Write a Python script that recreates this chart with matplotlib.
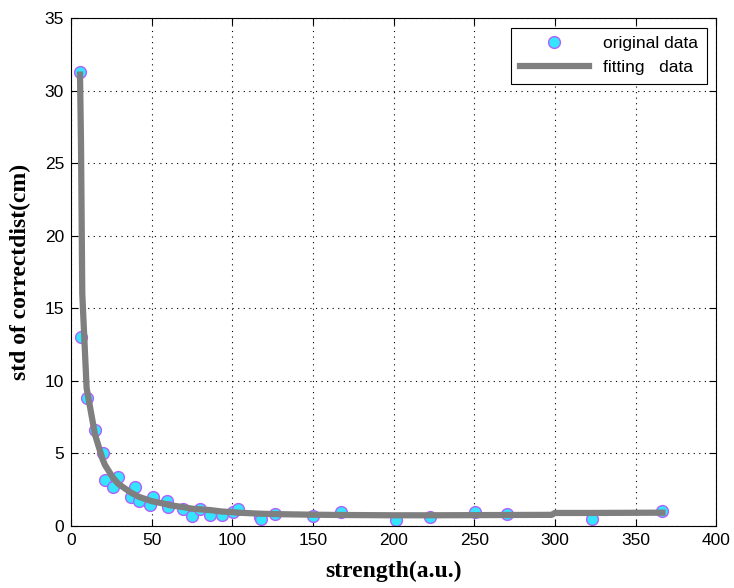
import matplotlib.pyplot as plt

# original measurements
strength = [5.6, 6.2, 9.7, 14.9, 19.6, 21.1, 26.2, 29.4, 37.2, 39.7, 42.4, 49.0, 50.6,
            59.3, 60.4, 69.7, 74.8, 80.0, 86.2, 93.4, 100.7, 103.8, 117.0, 117.5, 126.2,
            150.3, 167.2, 201.3, 222.6, 250.5, 270.2, 323.0, 366.7]
std_dist = [31.3, 13.0, 8.8, 6.6, 5.0, 3.2, 2.7, 3.4, 2.0, 2.7, 1.7, 1.45, 2.0,
            1.7, 1.3, 1.2, 0.7, 1.2, 0.75, 0.75, 1.0, 1.2, 0.65, 0.5, 0.85,
            0.7, 1.0, 0.4, 0.6, 1.0, 0.85, 0.5, 1.05]

# fitted curve
fit_x = [5.6, 6.2, 7.0, 9.7, 14.9, 19.6, 21.1, 26.2, 29.4, 37.2, 39.7, 42.4, 49.0, 50.6,
         59.3, 60.4, 69.7, 74.8, 80.0, 86.2, 93.4, 100.7, 103.8, 117.0, 126.2, 150.3,
         167.2, 201.3, 222.6, 250.5, 270.2, 298.0, 300.0, 323.0, 366.7]
fit_y = [31.1, 26.5, 16.0, 9.5, 6.3, 4.6, 4.2, 3.3, 2.9, 2.3, 2.15, 2.0, 1.75, 1.7,
         1.5, 1.45, 1.3, 1.2, 1.15, 1.1, 1.0, 0.95, 0.92, 0.85, 0.82, 0.78,
         0.76, 0.74, 0.74, 0.75, 0.76, 0.77, 0.9, 0.9, 0.92]

fig = plt.figure(figsize=(7.34, 5.88), dpi=100)
ax = fig.add_axes([0.0967, 0.1054, 0.879, 0.864])

ax.plot(strength, std_dist, 'o', color='#33e5ff', markeredgecolor='#b060ff',
        markeredgewidth=1.0, markersize=8.5, label='original data', zorder=2)
ax.plot(fit_x, fit_y, '-', color='#7f7f7f', linewidth=4.5, label='fitting   data', zorder=3)

ax.set_xlim(0, 400)
ax.set_ylim(0, 35)
ax.set_xticks(range(0, 401, 50))
ax.set_yticks(range(0, 36, 5))
ax.grid(True, linestyle=(0, (1, 4)), color='black', linewidth=0.8)
ax.tick_params(direction='in', top=True, right=True, length=5, labelsize=12.5, pad=5)
for lab in ax.get_xticklabels() + ax.get_yticklabels():
    lab.set_family('Liberation Sans')

ax.set_xlabel('strength(a.u.)', family='Liberation Serif', fontweight='bold', fontsize=17,
              labelpad=9)
ax.set_ylabel('std of correctdist(cm)', family='Liberation Serif', fontweight='bold', fontsize=17,
              labelpad=10)

leg = ax.legend(loc='upper right', fancybox=False, edgecolor='black', framealpha=1,
                prop={'family': 'Liberation Sans', 'size': 12.5}, handlelength=4,
                borderaxespad=0.55, borderpad=0.5, labelspacing=0.5)
leg.get_frame().set_linewidth(0.8)

fig.savefig('out.png')
